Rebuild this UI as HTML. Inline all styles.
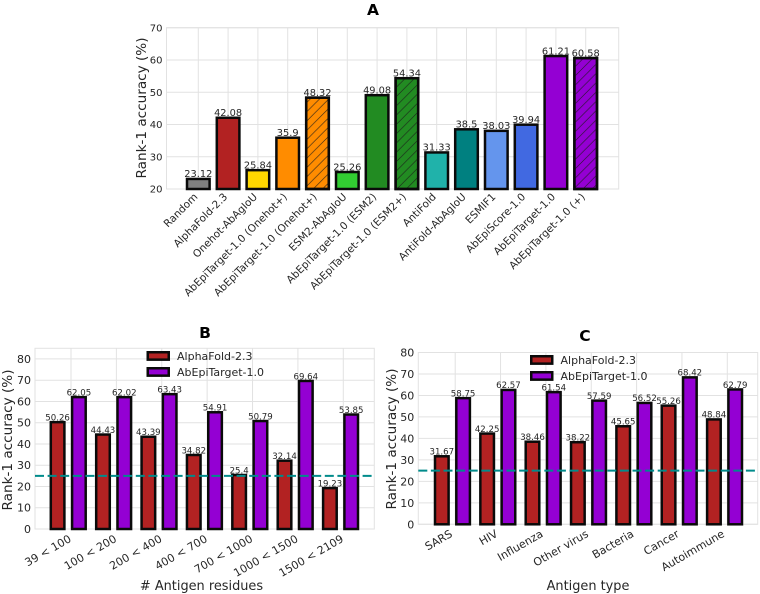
<!DOCTYPE html>
<html lang="en">
<head>
<meta charset="utf-8">
<title>Rank-1 accuracy comparison</title>
<style>
html,body{margin:0;padding:0;background:#fff;}
svg{display:block;filter:blur(0.3px);}
text{font-family:"DejaVu Sans","Liberation Sans",sans-serif;fill:#262626;}
</style>
</head>
<body>
<svg id="chart" xmlns="http://www.w3.org/2000/svg" width="760" height="594" viewBox="0 0 760 594">
<defs>
<pattern id="hatch" patternUnits="userSpaceOnUse" width="9.3" height="9.3">
<path d="M-1,1 L1,-1 M0,9.3 L9.3,0 M8.3,10.3 L10.3,8.3" stroke="#1a1a1a" stroke-width="0.6" fill="none"/>
</pattern>
</defs>
</svg>
<script>
const categoriesA = ["Random","AlphaFold-2.3","Onehot-AbAgIoU","AbEpiTarget-1.0 (Onehot+)","AbEpiTarget-1.0 (Onehot+)","ESM2-AbAgIoU","AbEpiTarget-1.0 (ESM2)","AbEpiTarget-1.0 (ESM2+)","AntiFold","AntiFold-AbAgIoU","ESMIF1","AbEpiScore-1.0","AbEpiTarget-1.0","AbEpiTarget-1.0 (+)"];
const valuesA = [23.12,42.08,25.84,35.9,48.32,25.26,49.08,54.34,31.33,38.5,38.03,39.94,61.21,60.58];
const colorsA = ["#808080","#b22222","#ffd700","#ff8c00","#ff8c00","#32cd32","#228b22","#228b22","#20b2aa","#008080","#6495ed","#4169e1","#9400d3","#9400d3"];
const hatchedA = [false,false,false,false,true,false,false,true,false,false,false,false,false,true];
const ticksA = [20,30,40,50,60,70];

const categoriesB = ["39 < 100","100 < 200","200 < 400","400 < 700","700 < 1000","1000 < 1500","1500 < 2109"];
const alphaFoldB = [50.26,44.43,43.39,34.82,25.4,32.14,19.23];
const abEpiTargetB = [62.05,62.02,63.43,54.91,50.79,69.64,53.85];
const ticksB = [0,10,20,30,40,50,60,70,80];

const categoriesC = ["SARS","HIV","Influenza","Other virus","Bacteria","Cancer","Autoimmune"];
const alphaFoldC = [31.67,42.25,38.46,38.22,45.65,55.26,48.84];
const abEpiTargetC = [58.75,62.57,61.54,57.59,56.52,68.42,62.79];
const ticksC = [0,10,20,30,40,50,60,70,80];

const seriesNames = ["AlphaFold-2.3","AbEpiTarget-1.0"];
const referenceLevel = 25;

const NS = "http://www.w3.org/2000/svg";
const root = document.getElementById("chart");
const GRID = "#e2e2e2";

function make(tag, parent, attrs) {
  const el = document.createElementNS(NS, tag);
  for (const k in attrs) el.setAttribute(k, attrs[k]);
  parent.appendChild(el);
  return el;
}

function scaleLinear(d0, d1, r0, r1) {
  return function (v) { return r0 + (v - d0) * (r1 - r0) / (d1 - d0); };
}

function drawFrame(g, box, ticks, y, tickX, size) {
  const bg = make("g", g, {});
  
  
  ticks.forEach(function (t) {
    const line = make("line", bg, {x1: box.l, x2: box.r, y1: y(t), y2: y(t), stroke: GRID, "stroke-width": 1});
    
    
    const lab = make("text", g, {x: box.l - 4, y: y(t) + size * 0.36, "text-anchor": "end", "font-size": size});
    
    
    lab.textContent = t;
  });
  tickX.forEach(function (x) {
    const line = make("line", bg, {x1: x, x2: x, y1: box.t, y2: box.b, stroke: GRID, "stroke-width": 1});
    
    
  });
  const frame = make("rect", bg, {x: box.l, y: box.t, width: box.r - box.l, height: box.b - box.t, fill: "none", stroke: GRID, "stroke-width": 1});
  
  
}

function drawBar(g, cx, w, top, base, color, hatched, label, fontSize, name) {
  const bar = make("rect", g, {x: cx - w / 2, y: top, width: w, height: base - top, fill: color, stroke: "#0a0a0a", "stroke-width": 2.5});
  
  
  if (hatched) {
    const h = make("rect", g, {x: cx - w / 2, y: top, width: w, height: base - top, fill: "url(#hatch)", stroke: "#0a0a0a", "stroke-width": 2.5});
    
    
  }
  const t = make("text", g, {x: cx, y: top - 1.7, "text-anchor": "middle", "font-size": fontSize});
  
  
  t.textContent = label;
}

function drawTitle(g, text, x, y) {
  const t = make("text", g, {x: x, y: y, "text-anchor": "middle", "font-size": 15.5, "font-weight": "bold"});
  
  
  t.setAttribute("fill", "#000");
  t.style.fill = "#000";
  t.textContent = text;
}

function drawYTitle(g, x, y) {
  const t = make("text", g, {x: 0, y: 0, "text-anchor": "middle", "font-size": 13.6, transform: "translate(" + x + "," + y + ") rotate(-90)"});
  
  
  t.textContent = "Rank-1 accuracy (%)";
}

function drawXTitle(g, text, x, y) {
  const t = make("text", g, {x: x, y: y, "text-anchor": "middle", "font-size": 12.9});
  
  
  t.textContent = text;
}

function drawLegend(g, x, y1, y2) {
  const colors = ["#b22222", "#9400d3"];
  [y1, y2].forEach(function (yy, i) {
    const entry = make("g", g, {});
    
    
    const sw = make("rect", entry, {x: x + 1.25, y: yy + 1.25, width: 21, height: 7.4, fill: colors[i], stroke: "#0a0a0a", "stroke-width": 2.5});
    
    
    const t = make("text", entry, {x: x + 30.5, y: yy + 9, "font-size": 11});
    
    
    t.textContent = seriesNames[i];
  });
}

/* Panel A */
(function () {
  const g = make("g", root, {});
  
  
  const box = {l: 166.5, r: 618.7, t: 27.7, b: 189};
  const y = scaleLinear(20, 70, box.b, box.t);
  const x = scaleLinear(0, categoriesA.length - 1, 198.3, 585.7);
  drawFrame(g, box, ticksA, y, categoriesA.map(function (_, i) { return x(i); }), 10);
  valuesA.forEach(function (v, i) {
    drawBar(g, x(i), 22.6, y(v), box.b, colorsA[i], hatchedA[i], v, 9.8, "bar-a-" + i);
  });
  categoriesA.forEach(function (c, i) {
    const t = make("text", g, {x: 0, y: 0, "text-anchor": "end", "font-size": 10.4, transform: "translate(" + x(i) + ",197.5) rotate(-45)"});
    
    
    t.textContent = c;
  });
  drawTitle(g, "A", 373, 15);
  drawYTitle(g, 146, 108);
})();

function drawGrouped(opts) {
  const g = make("g", root, {});
  
  
  const box = opts.box;
  const y = scaleLinear(0, opts.top, box.b, box.t);
  const x = scaleLinear(0, opts.categories.length - 1, opts.x0, opts.x1);
  drawFrame(g, box, opts.ticks, y, opts.categories.map(function (_, i) { return x(i); }), 11);
  opts.categories.forEach(function (c, i) {
    drawBar(g, x(i) - 13.4, 13.6, y(opts.a[i]), box.b, "#b22222", false, opts.a[i], 8.6, "bar-alphafold-" + i);
    drawBar(g, x(i) + 7.9, 13.6, y(opts.b[i]), box.b, "#9400d3", false, opts.b[i], 8.6, "bar-abepitarget-" + i);
    const t = make("text", g, {x: 0, y: 0, "text-anchor": "end", "font-size": 11, transform: "translate(" + (x(i) + opts.labelDx) + "," + opts.labelY + ") rotate(-30)"});
    
    
    t.textContent = c;
  });
  const ref = make("line", g, {x1: box.l, x2: box.r, y1: y(referenceLevel), y2: y(referenceLevel), stroke: "#008b8b", "stroke-width": 2, "stroke-dasharray": "9 3.6"});
  
  
  drawLegend(g, opts.legendX, opts.legendY1, opts.legendY2);
  drawTitle(g, opts.title, opts.titleX, opts.titleY);
  drawYTitle(g, opts.yTitleX, opts.yTitleY);
  drawXTitle(g, opts.xTitle, opts.xTitleX, 590);
}

drawGrouped({
  name: "panel-b", title: "B", titleX: 205, titleY: 338,
  box: {l: 35, r: 374.3, t: 348.3, b: 529}, top: 85, ticks: ticksB,
  categories: categoriesB, a: alphaFoldB, b: abEpiTargetB,
  x0: 71, x1: 343.3, labelDx: 1, labelY: 541,
  legendX: 146.5, legendY1: 351, legendY2: 367,
  yTitleX: 12, yTitleY: 440, xTitle: "# Antigen residues", xTitleX: 201.5
});

drawGrouped({
  name: "panel-c", title: "C", titleX: 585, titleY: 341,
  box: {l: 418.3, r: 757.7, t: 352.5, b: 524.3}, top: 80, ticks: ticksC,
  categories: categoriesC, a: alphaFoldC, b: abEpiTargetC,
  x0: 455.2, x1: 727.3, labelDx: -2, labelY: 536,
  legendX: 530, legendY1: 355, legendY2: 371,
  yTitleX: 396, yTitleY: 439, xTitle: "Antigen type", xTitleX: 588
});
</script>
</body>
</html>
